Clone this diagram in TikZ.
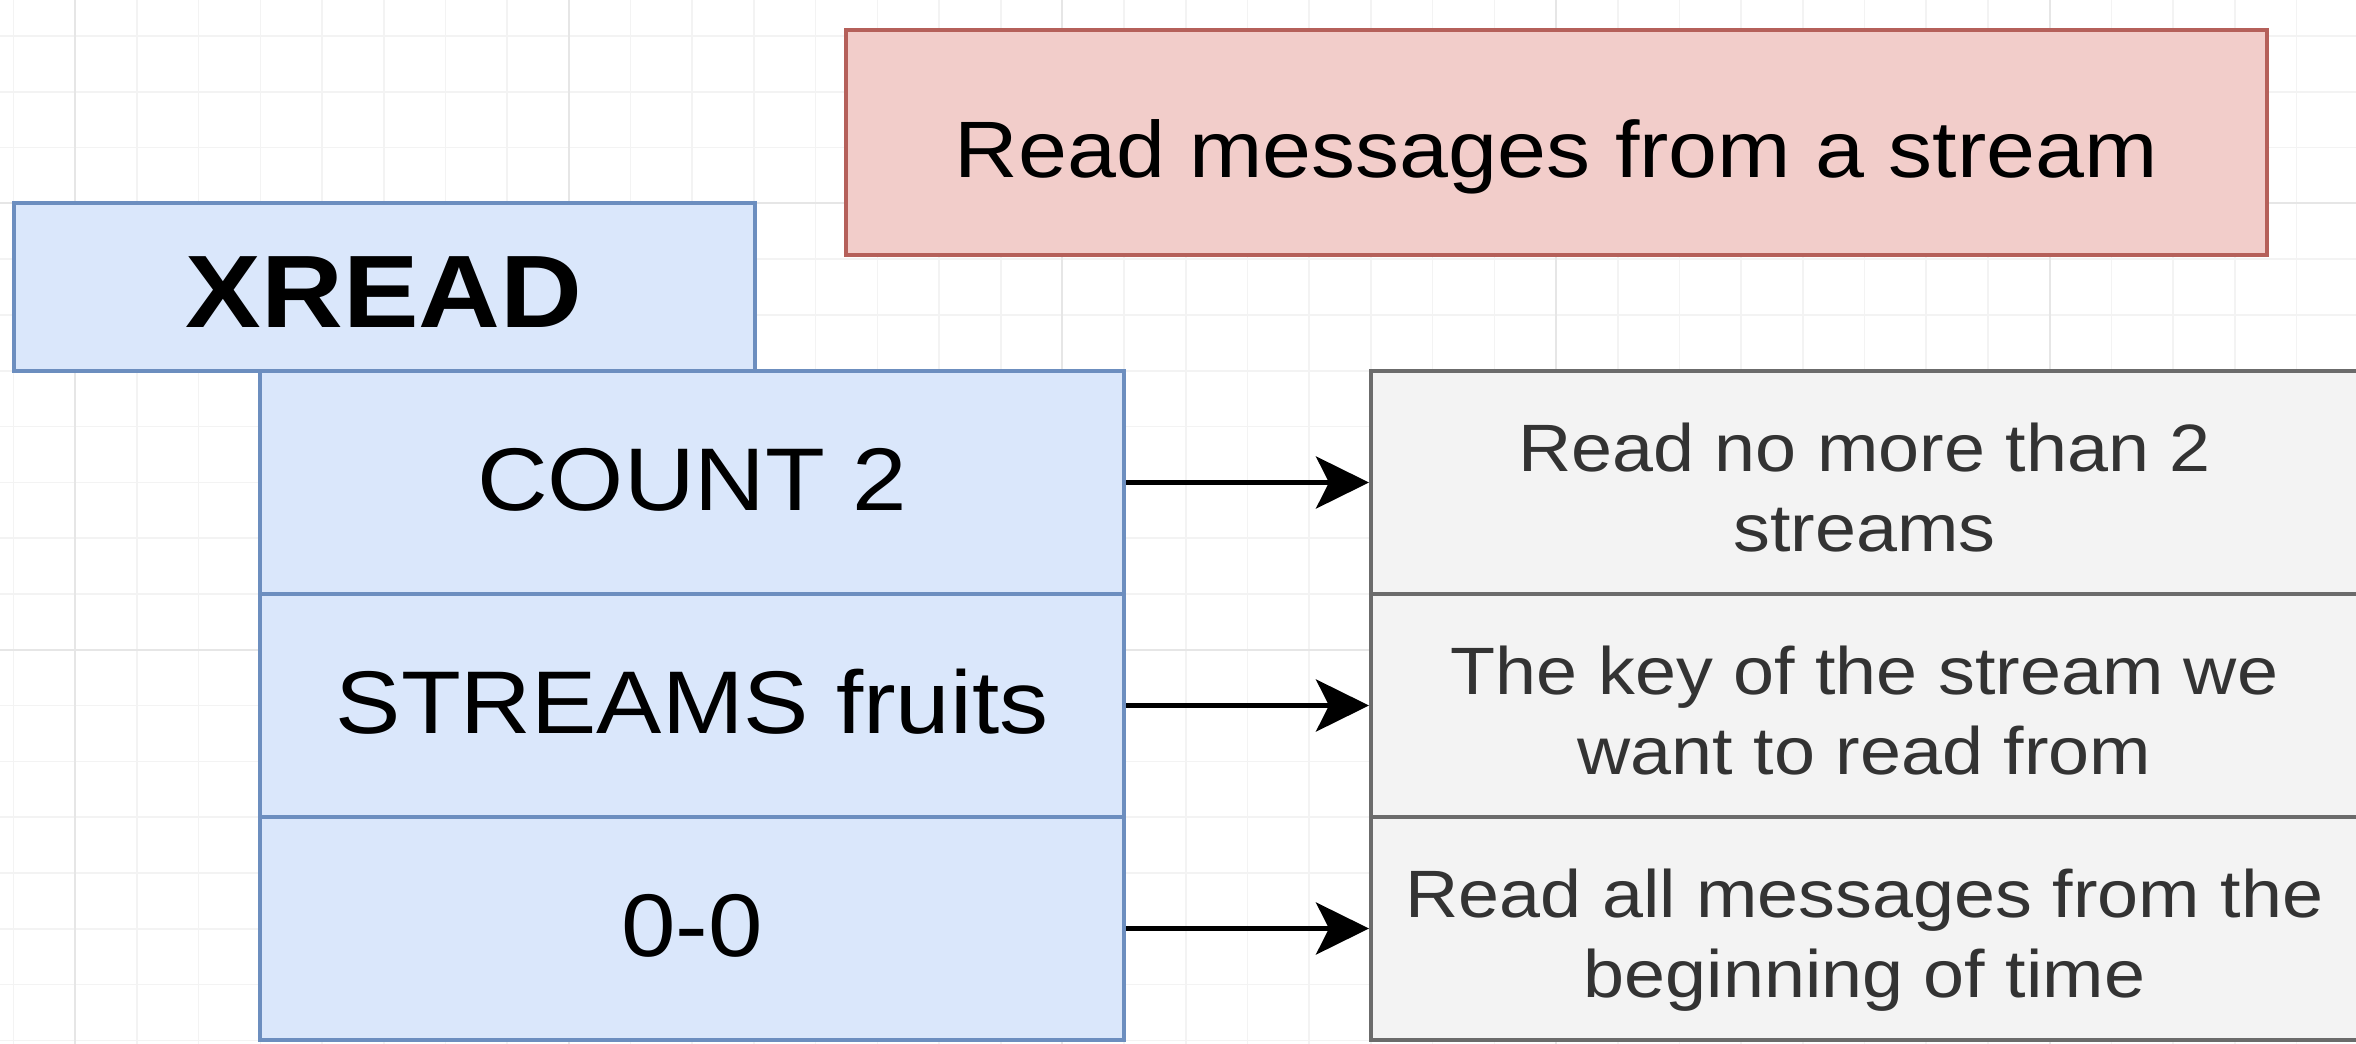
\documentclass[tikz,border=0pt]{standalone}
\usepackage{fontspec}
\setmainfont{Liberation Sans}[FakeStretch=1.1]
\usetikzlibrary{arrows.meta}
\definecolor{gridminor}{HTML}{F3F3F3}
\definecolor{gridmajor}{HTML}{E6E6E6}
\definecolor{bluefill}{HTML}{DAE7FB}
\definecolor{bluedraw}{HTML}{6C8EBF}
\definecolor{redfill}{HTML}{F2CDCA}
\definecolor{reddraw}{HTML}{B5605A}
\definecolor{greyfill}{HTML}{F3F3F3}
\definecolor{greydraw}{HTML}{6B6B6B}
\definecolor{desctext}{HTML}{333333}
\newcommand{\firstline}[1]{\rule{0pt}{28.5pt}#1}
\newcommand{\lastline}[1]{\raisebox{0pt}[\height][0pt]{#1}}
\tikzset{
  bluebox/.style={draw=bluedraw, fill=bluefill, line width=2pt, inner sep=0pt, minimum width=432pt, minimum height=111.5pt},
  greybox/.style={draw=greydraw, fill=greyfill, line width=2pt, inner sep=0pt, minimum width=493.5pt, minimum height=111.5pt,
    align=center, text=desctext, font=\fontsize{33.5pt}{40pt}\selectfont},
  cmdtext/.style={font=\fontsize{44.5pt}{53pt}\selectfont, text height=33pt, text depth=5.5pt},
  connector/.style={draw=black, line width=2.5pt, -{Stealth[length=26.5pt, width=26pt, inset=6.5pt]}},
}
\begin{document}
\begin{tikzpicture}[x=0.5pt, y=-0.5pt]
\useasboundingbox (0,0) rectangle (2356,1044);
\fill[white] (0,0) rectangle (2356,1044);
% grid
\foreach \k in {0,...,38} {
  \pgfmathsetmacro\gx{13.5+61.7*\k}
  \draw[gridminor, line width=0.8pt] (\gx,0) -- (\gx,1044);
}
\foreach \k in {0,...,18} {
  \pgfmathsetmacro\gy{36+55.8*\k}
  \draw[gridminor, line width=0.8pt] (0,\gy) -- (2356,\gy);
}
\foreach \k in {0,...,4} {
  \pgfmathsetmacro\gx{75.2+493.6*\k}
  \draw[gridmajor, line width=1pt] (\gx,0) -- (\gx,1044);
}
\foreach \k in {0,1} {
  \pgfmathsetmacro\gy{203.4+446.4*\k}
  \draw[gridmajor, line width=1pt] (0,\gy) -- (2356,\gy);
}
% title box
\node[draw=reddraw, fill=redfill, line width=2pt, inner sep=0pt, minimum width=710.5pt, minimum height=112.5pt,
  font=\fontsize{40pt}{48pt}\selectfont, text height=37pt, text depth=2.5pt] (title) at (1556.5,142.5) {Read messages from a stream};
% XREAD box
\node[draw=bluedraw, fill=bluefill, line width=2pt, inner sep=0pt, minimum width=370.75pt, minimum height=84pt,
  font=\fontsize{51.5pt}{60pt}\selectfont\bfseries, text height=44pt, text depth=4pt] (xread) at (384.25,287) {XREAD};
% command rows
\node[bluebox, cmdtext] (c1) at (692,482.5) {COUNT 2};
\node[bluebox, cmdtext] (c2) at (692,705.5) {STREAMS fruits};
\node[bluebox, cmdtext] (c3) at (692,928.5) {0-0};
% description rows
\node[greybox] (d1) at (1864.5,482.5) {\firstline{Read no more than 2}\\\lastline{streams}};
\node[greybox] (d2) at (1864.5,705.5) {\firstline{The key of the stream we}\\\lastline{want to read from}};
\node[greybox] (d3) at (1864.5,928.5) {\firstline{Read all messages from the}\\\lastline{beginning of time}};
% connectors
\draw[connector] (c1.east) -- (d1.west);
\draw[connector] (c2.east) -- (d2.west);
\draw[connector] (c3.east) -- (d3.west);
\end{tikzpicture}
\end{document}
